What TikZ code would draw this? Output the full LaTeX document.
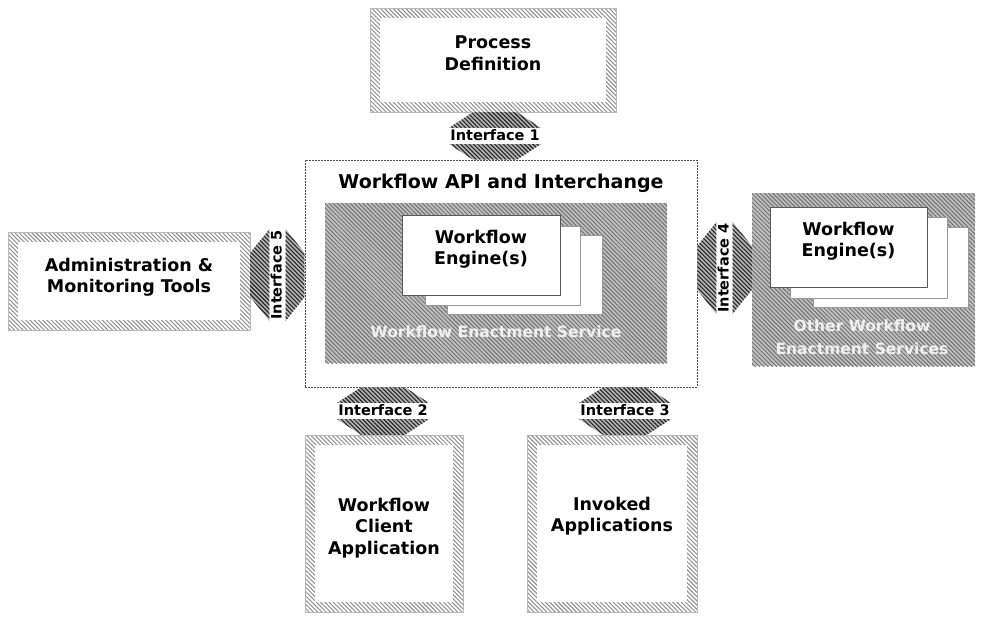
\documentclass[tikz,border=0pt]{standalone}
\usepackage{fontspec}
\setmainfont{DejaVu Sans}
\usetikzlibrary{patterns.meta,calc}

\newcommand\dgboxfont{\fontsize{17.5}{21.5}\selectfont\bfseries}
\newcommand\dgtitlefont{\fontsize{19}{23}\selectfont\bfseries}
\newcommand\dgifont{\fontsize{14.5}{16}\selectfont\bfseries}
\newcommand\dgrevfont{\fontsize{15.5}{23}\selectfont\bfseries}

\tikzset{
  x=1pt, y=-1pt,
  % box with a hatched frame and a white inside
  hatchbox/.style={
    pattern={Lines[angle=-45,distance=3pt,line width=1.1pt]},
    pattern color=black!42, draw=gray!55, line width=0.4pt,
    inner sep=0pt,
    path picture={\fill[white]
      ([shift={(10pt,-10pt)}]path picture bounding box.north west) rectangle
      ([shift={(-10pt,10pt)}]path picture bounding box.south east);}},
  boxtext/.style={align=center, font=\dgboxfont, inner sep=0pt},
  % dark hatched service area
  darkhatch/.style={
    preaction={fill=gray!50},
    pattern={Lines[angle=-45,distance=3pt,line width=1pt]},
    pattern color=black!55, inner sep=0pt},
  apibox/.style={draw=black!70, line width=0.7pt,
    dash pattern=on 2pt off 1pt, fill=white, inner sep=0pt},
  card/.style={fill=white, draw=black!65, line width=0.6pt, inner sep=0pt},
  backcard/.style={card, draw=black!40},
  revtext/.style={text=gray!12, align=center, font=\dgrevfont},
  iface/.style={fill=white, inner xsep=1pt, inner ysep=0pt,
    text height=12pt, text depth=4pt, font=\dgifont},
  ihatch/.style={
    preaction={fill=gray!60},
    pattern={Lines[angle=-45,distance=3pt,line width=1.1pt]},
    pattern color=black!85},
}

\begin{document}
\begin{tikzpicture}
\useasboundingbox (0,0) rectangle (981,621);

% outer components
\node[hatchbox, minimum width=246pt, minimum height=104pt] (pd) at (493,60) {};
\node[boxtext] (pdl) at (493,53) {Process\\Definition};
\node[hatchbox, minimum width=242pt, minimum height=98pt] (adm) at (129,281) {};
\node[boxtext] (adml) at (129,277) {Administration \&\\Monitoring Tools};
\node[hatchbox, minimum width=158pt, minimum height=177pt] (client) at (384,523.5) {};
\node[boxtext] (clientl) at (384,528) {Workflow\\Client\\Application};
\node[hatchbox, minimum width=170pt, minimum height=177pt] (invoked) at (612,523.5) {};
\node[boxtext] (invokedl) at (612,516) {Invoked\\Applications};

% central API frame with the enactment service
\node[apibox, minimum width=392pt, minimum height=227pt] (api) at (501,273.5) {};
\node[font=\dgtitlefont] (apititle) at (501,183) {Workflow API and Interchange};
\node[darkhatch, minimum width=342pt, minimum height=160pt] (wes) at (496,283) {};
\node[backcard, minimum width=155pt, minimum height=79pt] (c3) at (524.5,274.5) {};
\node[backcard, minimum width=155pt, minimum height=79pt] (c2) at (502.5,265.5) {};
\node[card, minimum width=158pt, minimum height=80pt] (c1) at (481,255) {};
\node[boxtext] (c1l) at (481,249) {Workflow\\Engine(s)};
\node[revtext] (wesl) at (496,332) {Workflow Enactment Service};

% other enactment services
\node[darkhatch, minimum width=223pt, minimum height=173pt] (other) at (863.5,279.5) {};
\node[backcard, minimum width=155pt, minimum height=80pt] (o3) at (890.5,267) {};
\node[backcard, minimum width=157pt, minimum height=81pt] (o2) at (868.5,257.5) {};
\node[card, minimum width=157pt, minimum height=80pt] (o1) at (848.5,247) {};
\node[boxtext] (o1l) at (848.5,241) {Workflow\\Engine(s)};
\node[revtext] (otherl) at (862,337) {Other Workflow\\Enactment Services};

% interfaces: a label band between two hatched arrow heads
\node[iface] (if1) at (495,136) {Interface 1};
\fill[ihatch] (if1.north west) -- ($(if1.north |- pd.south)+(-22,0)$)
  -- ($(if1.north |- pd.south)+(22,0)$) -- (if1.north east) -- cycle;
\fill[ihatch] (if1.south west) -- ($(if1.south |- api.north)+(-22,0)$)
  -- ($(if1.south |- api.north)+(22,0)$) -- (if1.south east) -- cycle;

\node[iface] (if2) at (383,411) {Interface 2};
\fill[ihatch] (if2.north west) -- ($(if2.north |- api.south)+(-22,0)$)
  -- ($(if2.north |- api.south)+(22,0)$) -- (if2.north east) -- cycle;
\fill[ihatch] (if2.south west) -- ($(if2.south |- client.north)+(-22,0)$)
  -- ($(if2.south |- client.north)+(22,0)$) -- (if2.south east) -- cycle;

\node[iface] (if3) at (625,411) {Interface 3};
\fill[ihatch] (if3.north west) -- ($(if3.north |- api.south)+(-22,0)$)
  -- ($(if3.north |- api.south)+(22,0)$) -- (if3.north east) -- cycle;
\fill[ihatch] (if3.south west) -- ($(if3.south |- invoked.north)+(-22,0)$)
  -- ($(if3.south |- invoked.north)+(22,0)$) -- (if3.south east) -- cycle;

\node[iface, rotate=90] (if5) at (277.5,275) {Interface 5};
\fill[ihatch] (if5.north west) -- ($(if5.north -| adm.east)+(0,22)$)
  -- ($(if5.north -| adm.east)+(0,-22)$) -- (if5.north east) -- cycle;
\fill[ihatch] (if5.south west) -- ($(if5.south -| api.west)+(0,22)$)
  -- ($(if5.south -| api.west)+(0,-22)$) -- (if5.south east) -- cycle;

\node[iface, rotate=90] (if4) at (724.5,268) {Interface 4};
\fill[ihatch] (if4.north west) -- ($(if4.north -| api.east)+(0,22)$)
  -- ($(if4.north -| api.east)+(0,-22)$) -- (if4.north east) -- cycle;
\fill[ihatch] (if4.south west) -- ($(if4.south -| other.west)+(0,22)$)
  -- ($(if4.south -| other.west)+(0,-22)$) -- (if4.south east) -- cycle;
\end{tikzpicture}
\end{document}
